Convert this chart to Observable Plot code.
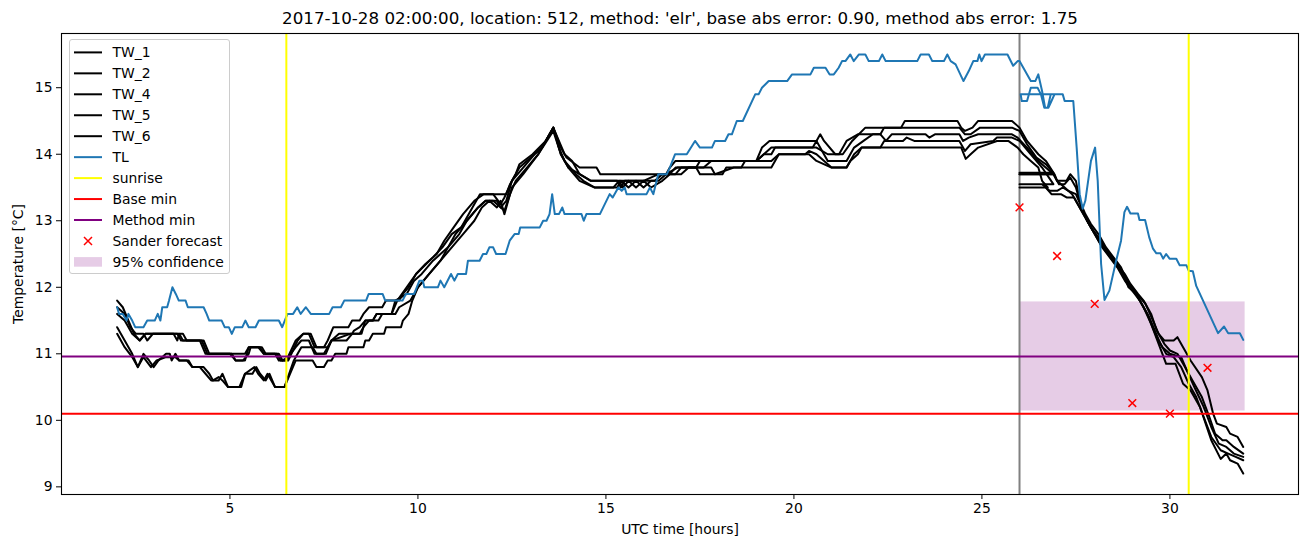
<!DOCTYPE html>
<html><head><meta charset="utf-8">
<script src="https://cdn.jsdelivr.net/npm/d3@7"></script>
<script src="https://cdn.jsdelivr.net/npm/@observablehq/plot@0.6"></script>
<style>
body{margin:0;background:#fff;}
#wrap{position:relative;width:1311px;height:547px;font-family:"DejaVu Sans",sans-serif;}
#legend{position:absolute;left:68.5px;top:39px;width:161px;height:235px;box-sizing:border-box;border:1px solid #cccccc;border-radius:3px;background:rgba(255,255,255,0.8);}
</style></head><body><div id="wrap"></div><script>
// ---------- data ----------
const titleText = "2017-10-28 02:00:00, location: 512, method: 'elr', base abs error: 0.90, method abs error: 1.75";
const xLabel = "UTC time [hours]";
const yLabel = "Temperature [°C]";
const xTicks = [5, 10, 15, 20, 25, 30];
const yTicks = [9, 10, 11, 12, 13, 14, 15];
const xDomain = [0.52, 33.42];
const yDomain = [8.885, 15.815];

const sunrise = [6.5, 30.5];
const forecastStart = 26;
const baseMin = 10.1;
const methodMin = 10.96;
const sanderT = [26, 27, 28, 29, 30, 31];
const sanderV = [13.2, 12.47, 11.75, 10.26, 10.1, 10.79];
const confT = [26, 32];
const confV = [10.14, 11.78];

const tw1 = [[2.0,11.8],[2.15,11.7],[2.3,11.5],[2.45,11.3],[2.6,11.2],[2.75,11.3],[3.5,11.3],[3.6,11.2],[3.65,11.3],[3.75,11.2],[4.2,11.2],[4.35,11.0],[5.0,11.0],[5.15,10.9],[5.35,10.9],[5.5,11.0],[5.55,11.1],[5.8,11.1],[5.9,11.0],[6.2,11.0],[6.3,10.9],[6.5,10.9],[6.75,11.2],[6.95,11.3],[7.1,11.3],[7.25,11.1],[7.5,11.1],[7.6,11.2],[7.75,11.4],[8.15,11.4],[8.25,11.5],[8.45,11.5],[8.55,11.6],[8.7,11.7],[9.05,11.7],[9.15,11.8],[9.5,11.8],[9.6,11.9],[9.75,12.0],[9.95,12.2],[10.4,12.45],[10.65,12.6],[10.9,12.8],[11.15,12.9],[11.45,13.2],[11.65,13.4],[12.35,13.4],[12.45,13.55],[12.6,13.7],[12.7,13.85],[13.05,14.0],[13.4,14.2],[13.6,14.4],[13.8,14.1],[13.95,13.95],[14.3,13.8],[14.75,13.8],[14.85,13.7],[16.6,13.7],[16.7,13.8],[16.85,13.9],[19.0,13.9],[19.15,14.1],[19.35,14.2],[20.6,14.2],[20.7,14.3],[20.8,14.2],[21.1,14.0],[21.3,14.0],[21.55,14.2],[21.9,14.4],[22.85,14.4],[22.95,14.5],[24.35,14.5],[24.45,14.4],[24.55,14.35],[24.75,14.4],[24.9,14.5],[25.8,14.5],[26.0,14.4],[26.2,14.2],[26.5,14.0],[26.7,13.9],[26.93,13.7],
 [26.0,13.7],[26.93,13.7],[27.0,13.6],[27.25,13.6],[27.35,13.7],[27.5,13.6],[27.6,13.3],[27.75,13.1],[27.9,12.95],[28.1,12.8],[28.3,12.6],[28.5,12.45],[28.7,12.3],[28.85,12.1],[29.0,12.0],[29.2,11.85],[29.35,11.75],[29.55,11.5],[29.7,11.3],[29.85,11.2],[30.1,11.2],[30.2,11.25],[30.35,11.1],[30.55,10.9],[30.85,10.65],[31.0,10.45],[31.15,10.1],[31.25,9.95],[31.5,9.9],[31.6,9.8],[31.8,9.75],[31.95,9.6]];

const tw2 = [[2.0,11.7],[2.2,11.6],[2.35,11.4],[2.5,11.3],[2.7,11.3],[2.8,11.2],[2.95,11.3],[3.75,11.3],[3.85,11.2],[4.25,11.2],[4.4,11.0],[5.05,11.0],[5.15,10.9],[5.4,10.9],[5.5,11.1],[5.85,11.1],[5.95,11.0],[6.25,11.0],[6.35,10.9],[6.55,10.9],[6.8,11.2],[6.95,11.3],[7.15,11.3],[7.3,11.1],[7.6,11.1],[7.7,11.2],[8.2,11.3],[8.5,11.3],[8.6,11.5],[8.8,11.5],[8.9,11.6],[9.3,11.6],[9.4,11.8],[9.7,11.9],[9.9,12.1],[10.1,12.2],[10.4,12.4],[10.8,12.6],[11.0,12.8],[11.3,13.0],[11.6,13.2],[11.8,13.3],[12.1,13.3],[12.2,13.2],[12.35,13.3],[12.5,13.6],[12.8,13.8],[13.1,14.0],[13.3,14.1],[13.6,14.4],[13.75,14.2],[13.9,14.0],[14.1,13.9],[14.3,13.7],[14.6,13.6],[15.3,13.6],[15.4,13.5],[15.5,13.6],[16.3,13.6],[16.5,13.7],[16.7,13.7],[16.85,13.8],[17.4,13.8],[17.5,13.9],[19.0,13.9],[19.2,14.0],[19.4,14.0],[19.5,14.1],[20.5,14.1],[20.6,14.2],[20.9,13.9],[21.4,13.9],[21.6,14.1],[21.85,14.2],[22.1,14.3],[22.3,14.3],[22.45,14.2],[22.6,14.3],[23.2,14.3],[23.5,14.3],[23.6,14.25],[23.75,14.3],[24.4,14.3],[24.5,14.2],[24.65,14.25],[24.9,14.3],[25.8,14.3],[25.95,14.25],[26.2,14.1],[26.5,13.9],[26.9,13.7],
 [26.0,13.7],[26.9,13.7],[27.05,13.55],[27.2,13.55],[27.35,13.65],[27.5,13.5],[27.65,13.2],[27.8,13.0],[27.95,12.85],[28.15,12.7],[28.4,12.5],[28.6,12.35],[28.8,12.2],[28.95,12.05],[29.15,11.9],[29.3,11.8],[29.5,11.6],[29.65,11.35],[29.85,11.15],[30.0,11.05],[30.2,11.0],[30.4,10.8],[30.6,10.6],[30.85,10.35],[31.05,10.05],[31.2,9.8],[31.4,9.7],[31.5,9.7],[31.7,9.6],[31.95,9.5]];

const tw4 = [[2.0,11.6],[2.2,11.5],[2.4,11.3],[2.6,11.2],[2.75,11.3],[3.6,11.3],[3.7,11.2],[4.3,11.2],[4.45,11.0],[5.4,11.0],[5.5,11.1],[5.75,11.1],[5.9,11.0],[6.3,11.0],[6.4,10.9],[6.55,10.95],[6.75,11.1],[6.9,11.2],[7.1,11.2],[7.25,11.0],[7.55,11.0],[7.7,11.2],[8.1,11.2],[8.25,11.3],[8.45,11.3],[8.55,11.4],[8.7,11.5],[8.95,11.5],[9.05,11.6],[9.4,11.6],[9.5,11.7],[9.8,11.8],[10.0,12.0],[10.3,12.2],[10.6,12.4],[10.9,12.6],[11.2,12.8],[11.5,13.0],[11.7,13.2],[11.9,13.3],[12.1,13.2],[12.2,13.3],[12.3,13.1],[12.4,13.3],[12.5,13.5],[12.8,13.7],[13.2,14.0],[13.6,14.35],[13.8,14.0],[14.0,13.8],[14.3,13.6],[14.7,13.5],[15.2,13.5],[15.35,13.6],[15.45,13.5],[15.6,13.6],[15.8,13.5],[16.0,13.6],[16.2,13.5],[16.5,13.6],[16.7,13.7],[17.0,13.7],[17.2,13.8],[17.8,13.8],[17.9,13.7],[18.4,13.8],[19.4,13.8],[19.6,14.0],[20.4,14.0],[20.6,13.9],[21.0,13.8],[21.4,13.8],[21.6,14.0],[21.8,14.1],[22.3,14.1],[22.4,14.2],[22.9,14.2],[23.0,14.25],[23.2,14.2],[24.4,14.2],[24.55,14.05],[24.7,14.15],[25.3,14.2],[25.4,14.25],[25.8,14.25],[26.0,14.2],[26.3,14.0],[26.6,13.8],[26.9,13.55],
 [26.0,13.55],[26.6,13.55],[26.8,13.45],[27.0,13.45],[27.15,13.5],[27.3,13.45],[27.5,13.4],[27.65,13.2],[27.8,13.0],[27.95,12.85],[28.15,12.65],[28.35,12.5],[28.55,12.35],[28.75,12.2],[28.9,12.0],[29.1,11.9],[29.3,11.7],[29.5,11.45],[29.65,11.25],[29.8,11.1],[30.0,11.0],[30.3,10.95],[30.45,10.75],[30.65,10.5],[30.9,10.2],[31.1,9.9],[31.3,9.65],[31.5,9.6],[31.7,9.5],[31.95,9.45]];

const tw5 = [[2.0,11.4],[2.2,11.2],[2.4,11.0],[2.55,10.8],[2.7,11.0],[2.85,10.9],[2.97,10.8],[3.1,10.9],[3.3,11.0],[3.4,11.0],[3.45,10.9],[3.55,11.0],[3.65,10.9],[3.85,10.9],[4.0,10.8],[4.2,10.8],[4.35,10.7],[4.5,10.6],[4.7,10.6],[4.8,10.7],[4.95,10.5],[5.25,10.5],[5.4,10.7],[5.6,10.7],[5.7,10.8],[5.8,10.7],[5.95,10.6],[6.05,10.7],[6.2,10.5],[6.45,10.5],[6.75,10.9],[7.2,10.9],[7.3,10.8],[7.5,10.8],[7.6,10.9],[7.7,10.9],[7.8,11.0],[8.1,11.0],[8.15,11.1],[8.55,11.1],[8.6,11.2],[8.7,11.2],[8.8,11.3],[9.1,11.3],[9.15,11.4],[9.55,11.4],[9.6,11.5],[9.75,11.6],[9.85,11.8],[10.0,12.0],[10.3,12.2],[10.6,12.4],[10.8,12.6],[11.1,12.8],[11.3,13.0],[11.6,13.2],[11.8,13.3],[12.0,13.3],[12.3,13.15],[12.45,13.4],[12.6,13.6],[12.9,13.8],[13.2,14.0],[13.6,14.4],[13.75,14.1],[13.9,13.9],[14.2,13.7],[14.4,13.6],[14.7,13.5],[15.3,13.5],[15.4,13.6],[15.6,13.5],[15.8,13.6],[16.0,13.5],[16.2,13.6],[16.4,13.6],[16.6,13.7],[16.9,13.8],[17.4,13.8],[17.5,13.7],[18.1,13.7],[18.2,13.8],[18.6,13.8],[18.7,13.9],[19.4,13.9],[19.6,14.0],[20.3,14.0],[20.4,14.05],[20.6,14.0],[21.0,13.8],[21.4,13.8],[21.5,13.9],[21.7,14.0],[21.8,14.1],[24.45,14.1],[24.57,13.93],[24.7,14.0],[24.9,14.1],[25.4,14.2],[25.7,14.2],[25.95,14.1],[26.1,14.0],[26.3,13.9],[26.5,13.8],[26.6,13.6],[26.75,13.5],
 [26.0,13.5],[26.7,13.5],[26.85,13.4],[27.1,13.4],[27.25,13.35],[27.45,13.35],[27.6,13.2],[27.75,13.05],[27.9,12.9],[28.1,12.75],[28.3,12.55],[28.5,12.4],[28.7,12.25],[28.85,12.1],[29.05,11.95],[29.25,11.75],[29.45,11.55],[29.6,11.35],[29.75,11.15],[29.9,11.0],[30.1,10.95],[30.3,10.8],[30.5,10.55],[30.7,10.35],[30.9,10.05],[31.1,9.75],[31.35,9.55],[31.55,9.5],[31.75,9.45],[31.95,9.4]];

const tw6 = [[2.0,11.3],[2.2,11.1],[2.4,10.95],[2.55,10.8],[2.7,10.95],[2.9,10.8],[3.05,10.9],[3.3,10.95],[3.55,10.95],[3.65,10.9],[3.9,10.9],[4.0,10.8],[4.3,10.8],[4.45,10.7],[4.55,10.6],[4.7,10.65],[4.8,10.6],[4.95,10.5],[5.3,10.5],[5.4,10.7],[5.65,10.8],[5.75,10.7],[5.9,10.6],[6.0,10.7],[6.1,10.6],[6.2,10.5],[6.45,10.5],[6.7,10.9],[6.8,11.0],[6.9,11.1],[7.2,11.1],[7.3,11.0],[7.5,11.0],[7.6,11.1],[7.7,11.2],[7.9,11.3],[8.25,11.3],[8.3,11.35],[8.45,11.4],[8.6,11.5],[8.8,11.5],[8.9,11.6],[9.3,11.6],[9.45,11.8],[9.7,12.0],[9.95,12.2],[10.2,12.35],[10.5,12.5],[10.7,12.7],[10.95,12.9],[11.2,13.1],[11.5,13.3],[11.75,13.4],[12.0,13.4],[12.2,13.25],[12.3,13.35],[12.5,13.6],[12.7,13.8],[13.0,13.95],[13.3,14.1],[13.6,14.4],[13.8,14.0],[14.0,13.8],[14.3,13.7],[14.6,13.6],[16.0,13.6],[16.4,13.7],[16.85,13.7],[17.0,13.8],[17.6,13.8],[17.8,13.9],[19.0,13.9],[19.4,14.1],[20.6,14.1],[20.9,14.0],[21.2,14.0],[21.4,14.2],[21.7,14.3],[22.3,14.3],[22.4,14.4],[24.4,14.4],[24.55,14.3],[24.7,14.3],[24.95,14.4],[25.8,14.4],[26.0,14.35],[26.2,14.15],[26.45,13.95],[26.7,13.85],[26.9,13.72],
 [26.0,13.72],[26.9,13.72],[27.0,13.6],[27.2,13.5],[27.4,13.4],[27.6,13.2],[27.8,13.0],[28.0,12.8],[28.2,12.6],[28.4,12.45],[28.6,12.3],[28.8,12.1],[29.0,11.95],[29.2,11.8],[29.4,11.6],[29.6,11.3],[29.8,11.0],[29.9,10.85],[30.15,10.85],[30.35,10.55],[30.55,10.45],[30.8,10.2],[31.1,9.7],[31.35,9.42],[31.5,9.5],[31.6,9.4],[31.8,9.35],[31.95,9.2]];

const tlPts = [[2.0,11.7],[2.05,11.6],[2.15,11.6],[2.25,11.5],[2.3,11.6],[2.4,11.5],[2.48,11.4],[2.7,11.4],[2.8,11.5],[3.0,11.5],[3.08,11.6],[3.15,11.5],[3.2,11.7],[3.33,11.7],[3.38,11.8],[3.47,12.0],[3.56,11.9],[3.64,11.8],[3.82,11.8],[3.88,11.7],[4.3,11.7],[4.38,11.6],[4.45,11.5],[4.78,11.5],[4.86,11.4],[4.97,11.4],[5.05,11.3],[5.13,11.4],[5.33,11.4],[5.41,11.5],[5.5,11.4],[5.68,11.4],[5.77,11.5],[6.3,11.5],[6.39,11.4],[6.53,11.6],[6.68,11.6],[6.79,11.7],[6.88,11.6],[7.02,11.7],[7.15,11.6],[7.64,11.6],[7.73,11.7],[7.95,11.7],[8.04,11.8],[8.62,11.8],[8.69,11.9],[9.06,11.9],[9.13,11.8],[9.59,11.8],[9.68,11.9],[9.9,11.9],[10.04,12.1],[10.13,12.1],[10.17,12.0],[10.53,12.0],[10.6,12.1],[10.7,12.0],[10.88,12.2],[10.97,12.1],[11.06,12.2],[11.28,12.2],[11.33,12.4],[11.64,12.4],[11.73,12.5],[11.82,12.5],[11.9,12.6],[12.0,12.6],[12.08,12.5],[12.33,12.5],[12.44,12.7],[12.57,12.8],[12.68,12.8],[12.72,12.9],[13.24,12.9],[13.33,13.0],[13.42,13.0],[13.5,13.1],[13.57,13.4],[13.64,13.1],[13.75,13.1],[13.84,13.2],[13.9,13.1],[14.35,13.1],[14.41,13.0],[14.48,13.1],[14.84,13.1],[15.1,13.4],[15.18,13.35],[15.33,13.5],[15.42,13.45],[15.5,13.5],[15.55,13.4],[16.08,13.4],[16.17,13.5],[16.26,13.4],[16.39,13.7],[16.62,13.7],[16.7,13.8],[16.84,14.0],[17.15,14.0],[17.37,14.2],[17.5,14.1],[17.82,14.1],[17.9,14.2],[18.17,14.2],[18.26,14.3],[18.35,14.3],[18.48,14.5],[18.64,14.5],[18.97,14.9],[19.06,14.9],[19.15,15.0],[19.33,15.1],[19.82,15.1],[19.95,15.2],[20.44,15.2],[20.53,15.3],[20.84,15.3],[20.95,15.2],[21.06,15.2],[21.19,15.3],[21.28,15.4],[21.37,15.4],[21.5,15.5],[21.59,15.4],[21.73,15.5],[21.9,15.5],[21.99,15.4],[22.26,15.4],[22.35,15.5],[22.44,15.4],[23.28,15.4],[23.37,15.5],[23.59,15.5],[23.68,15.4],[23.99,15.4],[24.08,15.5],[24.17,15.4],[24.3,15.35],[24.51,15.1],[24.65,15.25],[24.77,15.4],[24.88,15.4],[24.93,15.5],[24.99,15.4],[25.08,15.5],[25.68,15.5],[25.83,15.33],[25.95,15.4],[26.0,15.4],[26.15,15.25],[26.3,15.1],[26.42,15.1],[26.5,15.2],[26.6,14.95],[26.68,14.7],[26.77,14.7],[26.85,14.8],[26.93,14.9],
 [26.03,14.9],[26.06,14.8],[26.2,14.8],[26.3,15.0],[26.48,15.0],[26.57,14.9],[26.66,14.7],[26.75,14.7],[26.83,14.9],[27.15,14.9],[27.2,14.8],[27.43,14.8],[27.52,14.1],[27.6,13.4],[27.68,13.18],[27.75,13.3],[27.9,13.9],[28.01,14.1],[28.08,13.6],[28.17,12.35],[28.26,11.81],[28.39,11.95],[28.57,12.4],[28.7,12.7],[28.79,13.13],[28.86,13.21],[28.95,13.11],[29.15,13.11],[29.19,13.01],[29.34,13.01],[29.45,12.75],[29.55,12.58],[29.64,12.51],[29.75,12.51],[29.82,12.43],[29.9,12.5],[29.99,12.43],[30.17,12.43],[30.26,12.33],[30.44,12.33],[30.5,12.25],[30.61,12.24],[30.7,12.02],[31.28,11.31],[31.44,11.41],[31.55,11.31],[31.86,11.31],[31.95,11.21]];

const twNames = ["TW_1", "TW_2", "TW_4", "TW_5", "TW_6"];
const twSeries = [tw1, tw2, tw4, tw5, tw6];

// ---------- build tables ----------
const twRows = [];
twSeries.forEach((pts, k) => pts.forEach(([t, v]) => twRows.push({name: twNames[k], t, v})));
const tlRows = tlPts.map(([t, v]) => ({t, v}));
const sander = sanderT.map((t, i) => ({t, v: sanderV[i]}));
const conf = [{x1: confT[0], x2: confT[1], y1: confV[0], y2: confV[1]}];

const font = '"DejaVu Sans", sans-serif';
const chart = Plot.plot({
  width: 1311, height: 547,
  marginLeft: 61, marginRight: 13, marginTop: 33, marginBottom: 53,
  style: {fontFamily: font, fontSize: "13.9px", color: "black", background: "white"},
  x: {domain: xDomain},
  y: {domain: yDomain},
  marks: [
    Plot.rect(conf, {x1: "x1", x2: "x2", y1: "y1", y2: "y2", fill: "purple", fillOpacity: 0.2}),
    Plot.ruleX([forecastStart], {stroke: "gray", strokeWidth: 2}),
    Plot.line(twRows, {x: "t", y: "v", z: "name", stroke: "black", strokeWidth: 2}),
    Plot.line(tlRows, {x: "t", y: "v", stroke: "#1f77b4", strokeWidth: 2}),
    Plot.ruleX(sunrise, {stroke: "yellow", strokeWidth: 2}),
    Plot.ruleY([baseMin], {stroke: "red", strokeWidth: 2}),
    Plot.ruleY([methodMin], {stroke: "purple", strokeWidth: 2}),
    Plot.dot(sander, {x: "t", y: "v", symbol: "times", stroke: "red", r: 3.6, strokeWidth: 1.5}),
    Plot.axisX({ticks: xTicks, tickSize: 5, tickPadding: 4, label: null, tickFormat: d => String(d), fontSize: 13.9}),
    Plot.axisY({ticks: yTicks, tickSize: 5, tickPadding: 4, label: null, tickFormat: d => String(d), fontSize: 13.9}),
    Plot.frame({stroke: "black", strokeWidth: 1.1}),
    Plot.text([titleText], {frameAnchor: "top", dy: -15, lineAnchor: "middle", text: d => d, fontSize: 16.7}),
    Plot.text([xLabel], {frameAnchor: "bottom", dy: 35, lineAnchor: "middle", text: d => d, fontSize: 13.9}),
    Plot.text([yLabel], {frameAnchor: "left", dx: -43, rotate: -90, lineAnchor: "middle", textAnchor: "middle", text: d => d, fontSize: 13.9})
  ]
});
const wrap = document.getElementById("wrap");
wrap.appendChild(chart);

// ---------- legend ----------
const legendItems = [
  {label: "TW_1", kind: "line", color: "black"},
  {label: "TW_2", kind: "line", color: "black"},
  {label: "TW_4", kind: "line", color: "black"},
  {label: "TW_5", kind: "line", color: "black"},
  {label: "TW_6", kind: "line", color: "black"},
  {label: "TL", kind: "line", color: "#1f77b4"},
  {label: "sunrise", kind: "line", color: "yellow"},
  {label: "Base min", kind: "line", color: "red"},
  {label: "Method min", kind: "line", color: "purple"},
  {label: "Sander forecast", kind: "x", color: "red"},
  {label: "95% confidence", kind: "patch", color: "purple"}
];
const lg = document.createElement("div");
lg.id = "legend";
wrap.appendChild(lg);
const svg = d3.select(lg).append("svg").attr("width", 159).attr("height", 233)
  .style("font-family", font).style("font-size", "13.9px");
legendItems.forEach((it, i) => {
  const cy = 12.4 + i * 20.95;
  const g = svg.append("g");
  if (it.kind === "line") {
    g.append("line").attr("x1", 4).attr("x2", 32).attr("y1", cy).attr("y2", cy)
      .attr("stroke", it.color).attr("stroke-width", 2);
  } else if (it.kind === "x") {
    const s = 4;
    g.append("path").attr("d", `M${18 - s},${cy - s}L${18 + s},${cy + s}M${18 - s},${cy + s}L${18 + s},${cy - s}`)
      .attr("stroke", it.color).attr("stroke-width", 1.5);
  } else {
    g.append("rect").attr("x", 4).attr("y", cy - 4.8).attr("width", 28).attr("height", 9.6)
      .attr("fill", it.color).attr("fill-opacity", 0.2);
  }
  g.append("text").attr("x", 42.5).attr("y", cy).attr("dy", "0.35em").text(it.label);
});
</script></body></html>
